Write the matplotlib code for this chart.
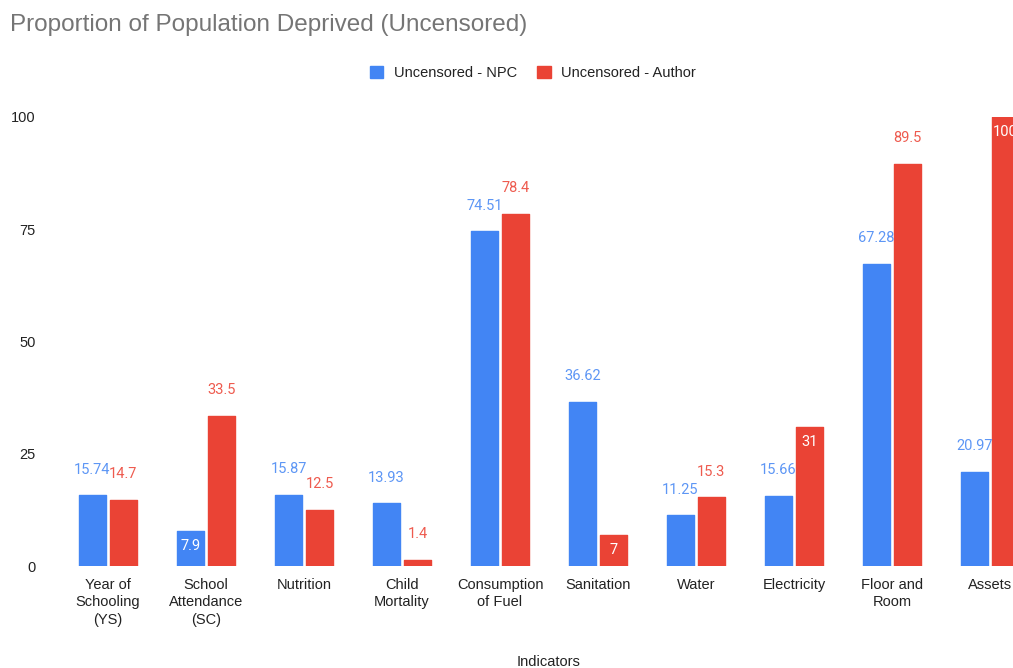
import matplotlib
matplotlib.use("Agg")
import matplotlib.pyplot as plt
from matplotlib.patches import Patch
import numpy as np

UI_FONT = ['Liberation Sans', 'DejaVu Sans']
NUM_FONT = ['Roboto', 'DejaVu Sans']
plt.rcParams['font.family'] = UI_FONT

categories = [
    "Year of\nSchooling\n(YS)", "School\nAttendance\n(SC)", "Nutrition",
    "Child\nMortality", "Consumption\nof Fuel", "Sanitation", "Water",
    "Electricity", "Floor and\nRoom", "Assets",
]
npc_values = [15.74, 7.9, 15.87, 13.93, 74.51, 36.62, 11.25, 15.66, 67.28, 20.97]
author_values = [14.7, 33.5, 12.5, 1.4, 78.4, 7, 15.3, 31, 89.5, 100]
npc_labels = ["15.74", "7.9", "15.87", "13.93", "74.51", "36.62", "11.25", "15.66", "67.28", "20.97"]
author_labels = ["14.7", "33.5", "12.5", "1.4", "78.4", "7", "15.3", "31", "89.5", "100"]
y_ticks = [0, 25, 50, 75, 100]

# labels drawn inside the bar top (white) rather than above it
npc_inside = {1}
author_inside = {5, 7, 9}

BLUE = "#4285F4"
RED = "#EA4335"
BLUE_TXT = "#5d96f5"
RED_TXT = "#ee5b4f"
INK = "#222222"

W, H = 1013, 668
fig = plt.figure(figsize=(W / 100, H / 100), dpi=100)
fig.patch.set_facecolor("white")

left, right, top, bottom = 59, 1039, 117, 566
ax = fig.add_axes([left / W, (H - bottom) / H, (right - left) / W, (bottom - top) / H])
ax.set_xlim(-0.5, len(categories) - 0.5)
ax.set_ylim(0, 100)

x = np.arange(len(categories))
bw = 0.285
off = 0.158
ax.bar(x - off, npc_values, width=bw, color=BLUE, edgecolor=BLUE, linewidth=1.0,
       joinstyle="round", zorder=2)
ax.bar(x + off, author_values, width=bw, color=RED, edgecolor=RED, linewidth=1.0,
       joinstyle="round", zorder=2)

def label_bars(xs, vals, texts, inside, color):
    for i, (xi, v, t) in enumerate(zip(xs, vals, texts)):
        if i in inside:
            ax.annotate(t, (xi, v), xytext=(0, -11), textcoords="offset points",
                        ha="center", va="center", fontsize=10.5, color="white",
                        family=NUM_FONT, zorder=3, annotation_clip=False)
        else:
            ax.annotate(t, (xi, v), xytext=(0, 18.5), textcoords="offset points",
                        ha="center", va="center", fontsize=10.5, color=color,
                        family=NUM_FONT, zorder=3, annotation_clip=False)

label_bars(x - off, npc_values, npc_labels, npc_inside, BLUE_TXT)
label_bars(x + off, author_values, author_labels, author_inside, RED_TXT)

ax.set_xticks(x)
ax.set_xticklabels(categories, fontsize=10.5, color=INK, linespacing=1.32)
ax.set_yticks(y_ticks)
ax.set_yticklabels([str(v) for v in y_ticks], fontsize=10.5, color=INK)
ax.tick_params(axis="x", length=0, pad=8.5)
ax.tick_params(axis="y", length=0, pad=17)
for s in ax.spines.values():
    s.set_visible(False)

fig.text(10 / W, 1 - 25 / H, "Proportion of Population Deprived (Uncensored)",
         fontsize=17.5, color="#757575", ha="left", va="center")

fig.text(549 / W, 1 - 662 / H, "Indicators", fontsize=10.5, color=INK,
         ha="center", va="center")

handles = [Patch(facecolor=BLUE, edgecolor=BLUE, label="Uncensored - NPC"),
           Patch(facecolor=RED, edgecolor=RED, label="Uncensored - Author")]
fig.legend(handles=handles, loc="center", bbox_to_anchor=(533 / W, 1 - 73 / H),
           ncol=2, frameon=False, fontsize=10.5, handlelength=0.9, handleheight=0.9,
           handletextpad=0.75, columnspacing=1.4, labelcolor=INK)

fig.savefig("out.png", dpi=100, facecolor="white")
